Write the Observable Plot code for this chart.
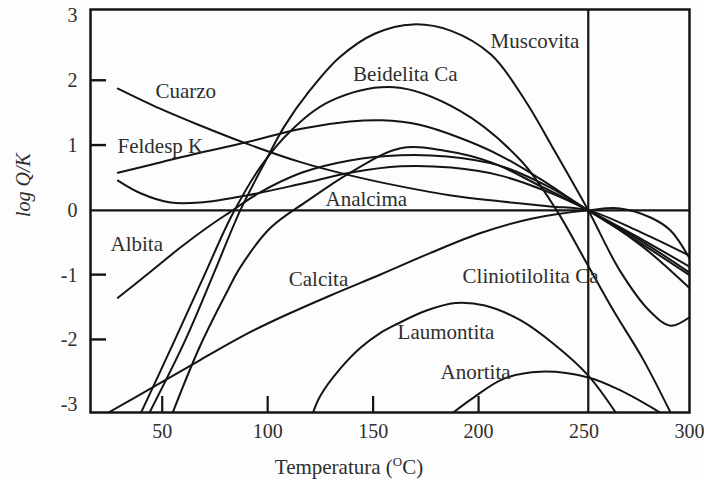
<!DOCTYPE html>
<html>
<head>
<meta charset="utf-8">
<script src="https://cdn.jsdelivr.net/npm/d3@7"></script>
<script src="https://cdn.jsdelivr.net/npm/@observablehq/plot@0.6"></script>
<style>
  html, body { margin: 0; padding: 0; background: #fdfdfd; }
  #chart { width: 704px; height: 480px; }
</style>
</head>
<body>
<div id="chart"></div>
<script>
// Saturation index curves: log Q/K versus temperature (°C), one [T, logQ/K] list per mineral
const muscovita = [[44,-3.12],[61,-2.0],[75,-0.93],[87,0],[98,0.7],[108,1.3],[120,1.85],[134,2.36],[151,2.73],[169,2.87],[187,2.77],[206,2.4],[222,1.7],[236,0.92],[252,0],[267,-0.93],[281,-1.55],[291,-1.78],[300,-1.65]];
const beidelitaCa = [[40,-3.12],[56,-2.0],[70,-1.0],[83,-0.08],[97,0.69],[111,1.23],[130,1.69],[160,1.9],[191,1.54],[220,0.77],[237,0],[251,-0.8],[264,-1.55],[278,-2.3],[291,-3.12]];
const cliniotilolitaCa = [[55,-3.12],[68,-2.09],[81,-1.24],[87,-0.88],[101,-0.28],[119,0.15],[139,0.58],[163,0.96],[184,0.92],[206,0.74],[229,0.38],[252,0],[277,-0.54],[300,-1.2]];
const cuarzo = [[29,1.88],[49,1.57],[68,1.31],[90,1.03],[116,0.74],[139,0.54],[163,0.37],[187,0.23],[210,0.14],[234,0.06],[252,0],[277,-0.34],[300,-0.7]];
const feldespK = [[29,0.58],[49,0.74],[68,0.89],[90,1.05],[116,1.26],[139,1.37],[154,1.39],[172,1.32],[191,1.12],[210,0.85],[229,0.49],[252,0],[277,-0.47],[300,-0.96]];
const analcima = [[29,0.46],[40,0.26],[54,0.12],[68,0.12],[90,0.23],[116,0.41],[139,0.58],[163,0.68],[187,0.66],[210,0.54],[234,0.27],[252,0],[277,-0.44],[300,-0.87]];
const albita = [[29,-1.35],[44,-0.96],[58,-0.59],[72,-0.25],[82,-0.03],[96,0.27],[116,0.58],[139,0.77],[163,0.85],[185,0.83],[210,0.69],[234,0.35],[252,0],[277,-0.51],[300,-1.0]];
const calcita = [[24.5,-3.12],[44,-2.76],[68,-2.31],[87,-1.96],[103,-1.7],[130,-1.31],[153.5,-0.99],[177,-0.66],[201,-0.35],[225,-0.13],[252,0],[267,0.03],[281.5,-0.11],[291,-0.31],[300,-0.74]];
const laumontita = [[121.5,-3.12],[125,-2.86],[134.5,-2.44],[144,-2.12],[153.5,-1.89],[161.6,-1.75],[175,-1.55],[189,-1.43],[203,-1.47],[220,-1.7],[235.5,-2.06],[252,-2.55],[265,-3.12]];
const anortita = [[188,-3.12],[197.6,-2.89],[211.8,-2.6],[229.4,-2.49],[252,-2.58],[267.3,-2.78],[286,-3.12]];

// Mineral names and where each name is written (T, logQ/K of the text's left-middle point)
const labelNames = ["Muscovita", "Beidelita Ca", "Cuarzo", "Feldesp K", "Analcima", "Albita", "Calcita", "Cliniotilolita Ca", "Laumontita", "Anortita"];
const labelT = [205.7, 140.5, 46.8, 28.8, 127.4, 25.5, 110, 192.4, 161.6, 182];
const labelV = [2.61, 2.10, 1.84, 0.99, 0.17, -0.52, -1.06, -1.02, -1.88, -2.50];

// Axis ticks
const xTicks = [50, 100, 150, 200, 250, 300];
const xTickMarks = [50, 100, 150, 200];
const yTicks = [-3, -2, -1, 0, 1, 2, 3];
const yTickMarks = [-2, -1, 1, 2];

// Equilibrium temperature where the curves meet
const equilibriumT = 252;

const series = [
  ["Muscovita", muscovita], ["Beidelita Ca", beidelitaCa], ["Cliniotilolita Ca", cliniotilolitaCa],
  ["Cuarzo", cuarzo], ["Feldesp K", feldespK], ["Analcima", analcima], ["Albita", albita],
  ["Calcita", calcita], ["Laumontita", laumontita], ["Anortita", anortita]
];
const rows = series.flatMap(([name, pts]) => pts.map(([t, v]) => ({mineral: name, t, v})));
const labels = labelNames.map((name, i) => ({name, t: labelT[i], v: labelV[i]}));

const ink = "#141414";
const textInk = "#2e2e2e";
const tickLen = 16;
const W = 704, H = 480;
const margin = {left: 90, right: 15, top: 9, bottom: 68};
const xDomain = [16, 300];
const yDomain = [-3.12, 3.1];

const plot = Plot.plot({
  width: W,
  height: H,
  marginLeft: margin.left,
  marginRight: margin.right,
  marginTop: margin.top,
  marginBottom: margin.bottom,
  x: {domain: xDomain},
  y: {domain: yDomain},
  style: {
    fontFamily: "'Liberation Serif', 'Times New Roman', serif",
    fontSize: "20px",
    background: "#fdfdfd",
    color: textInk
  },
  marks: [
    Plot.line(rows, {x: "t", y: "v", z: "mineral", curve: "catmull-rom", stroke: ink, strokeWidth: 2, clip: true}),
    Plot.ruleY([0], {stroke: ink, strokeWidth: 2.2}),
    Plot.ruleX([equilibriumT], {stroke: ink, strokeWidth: 2.2}),
    Plot.axisY({ticks: yTicks, tickSize: 0, tickPadding: 13, tickFormat: d => String(d), label: null, fontSize: 20}),
    Plot.axisX({ticks: xTicks, tickSize: 0, tickPadding: 11, tickFormat: d => String(d), label: null, fontSize: 20}),
    Plot.axisX({ticks: xTickMarks, tickSize: tickLen, dy: -tickLen, tickFormat: () => "", label: null, stroke: ink, strokeWidth: 2.2}),
    Plot.text(labels, {x: "t", y: "v", text: "name", textAnchor: "start", fontSize: 21, fill: textInk}),
    Plot.frame({stroke: ink, strokeWidth: 2.5})
  ]
});

const svg = d3.select(plot);
const yScale = plot.scale("y");

// inward y tick marks along the left edge of the frame, placed with Plot's y scale
svg.append("g")
  .attr("stroke", ink)
  .attr("stroke-width", 2.4)
  .selectAll("line")
  .data(yTickMarks)
  .join("line")
  .attr("x1", margin.left)
  .attr("x2", margin.left + tickLen)
  .attr("y1", d => yScale.apply(d))
  .attr("y2", d => yScale.apply(d));

// x-axis title with superscript degree mark
const xt = svg.append("text")
  .attr("x", 349).attr("y", 474)
  .attr("text-anchor", "middle")
  .attr("fill", textInk)
  .style("font-size", "21px");
xt.append("tspan").text("Temperatura (");
xt.append("tspan").attr("dy", -8).style("font-size", "13px").text("O");
xt.append("tspan").attr("dy", 8).text("C)");

// y-axis title
svg.append("text")
  .attr("transform", "translate(30,185) rotate(-90)")
  .attr("text-anchor", "middle")
  .attr("fill", textInk)
  .style("font-size", "20px")
  .style("font-style", "italic")
  .text("log Q/K");

document.getElementById("chart").appendChild(plot);
</script>
</body>
</html>
